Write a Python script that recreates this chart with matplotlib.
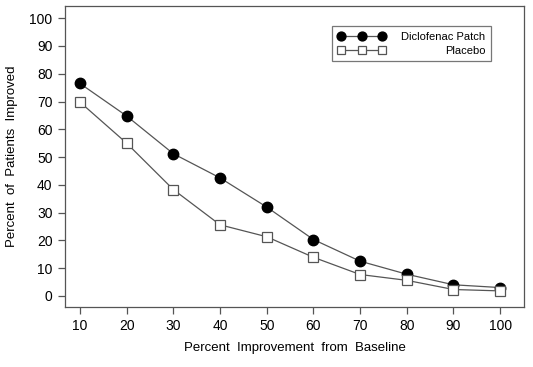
import matplotlib
matplotlib.use("Agg")
import matplotlib.pyplot as plt

# percent improvement from baseline (x) vs percent of patients improved
improvement = [10, 20, 30, 40, 50, 60, 70, 80, 90, 100]
diclofenac = [76.5, 64.8, 51.2, 42.5, 32.0, 20.3, 12.5, 7.8, 4.0, 3.0]
placebo = [69.8, 55.0, 38.3, 25.6, 21.3, 13.9, 7.7, 5.6, 2.3, 1.8]

plt.rcParams['font.family'] = ['Liberation Sans', 'DejaVu Sans']

fig = plt.figure(figsize=(5.33, 3.67), dpi=100, facecolor='w')
ax = fig.add_axes([65/533, 1 - 307/367, (524-65)/533, (307-6)/367])

ax.plot(improvement, diclofenac, color='#555555', lw=0.9, marker='o', ms=7.5,
        mfc='black', mec='black', label='Diclofenac Patch')
ax.plot(improvement, placebo, color='#555555', lw=0.9, marker='s', ms=6.5,
        mfc='white', mec='#555555', mew=0.9, label='Placebo')

ax.set_xlim(6.8, 105.1)
ax.set_ylim(-4, 104.4)
ax.set_xticks(improvement)
ax.set_yticks(range(0, 101, 10))
ax.tick_params(direction='out', length=5, width=0.9, color='#555555', labelsize=10, pad=4)
for sp in ax.spines.values():
    sp.set_color('#555555')
    sp.set_linewidth(0.9)

ax.set_xlabel('Percent  Improvement  from  Baseline', fontsize=9.5, labelpad=6)
ax.set_ylabel('Percent  of  Patients  Improved', fontsize=9.5, labelpad=8)

leg = ax.legend(loc='upper right', bbox_to_anchor=(0.928, 0.933), numpoints=3,
                handlelength=4.3, fontsize=8, frameon=True, fancybox=False,
                borderpad=0.5, labelspacing=0.35, handletextpad=1.4,
                borderaxespad=0, markerscale=0.85)
leg.get_frame().set_edgecolor('#555555')
leg.get_frame().set_linewidth(0.9)

# right-align the legend labels like the original
fig.canvas.draw()
r = fig.canvas.get_renderer()
texts = leg.get_texts()
widths = [t.get_window_extent(r).width for t in texts]
wmax = max(widths)
items = leg._legend_handle_box.get_children()[0].get_children()
for item, w in zip(items, widths):
    item.sep = item.sep + (wmax - w) * 72.0 / fig.dpi

fig.savefig('out.png', dpi=100)
